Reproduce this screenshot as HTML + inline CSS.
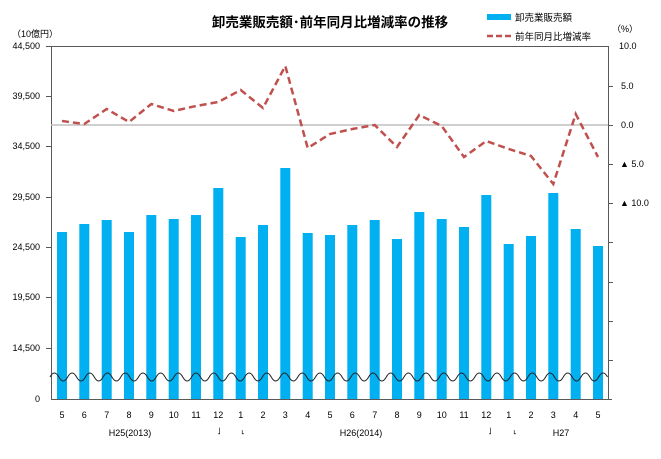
<!DOCTYPE html>
<html><head><meta charset="utf-8"><style>
body{margin:0;background:#fff}
svg text{font-family:"Liberation Sans","Noto Sans CJK JP",sans-serif;fill:#000}
</style></head><body>
<svg width="661" height="454" viewBox="0 0 661 454" xmlns="http://www.w3.org/2000/svg">
<rect width="661" height="454" fill="#fff"/>
<text x="330" y="27" font-size="13.5" font-weight="bold" text-anchor="middle">卸売業販売額･前年同月比増減率の推移</text>
<rect x="487" y="14" width="24" height="6" fill="#00b0f0"/>
<text x="515" y="21" font-size="9.5">卸売業販売額</text>
<line x1="487" y1="36" x2="511" y2="36" stroke="#c0504d" stroke-width="2.5" stroke-dasharray="6,3"/>
<text x="515" y="40" font-size="9.5">前年同月比増減率</text>
<text x="12" y="37" font-size="9">（10億円）</text>
<text x="612" y="32" font-size="9">（%）</text>
<g font-size="9" text-anchor="end">
<text x="40" y="49">44,500</text><text x="40" y="99">39,500</text><text x="40" y="149">34,500</text><text x="40" y="200">29,500</text><text x="40" y="250">24,500</text><text x="40" y="300">19,500</text><text x="40" y="351">14,500</text><text x="40" y="402">0</text>
</g>
<g font-size="9">
<text x="619" y="49">10.0</text><text x="621" y="89">5.0</text><text x="621" y="128">0.0</text><text x="620" y="167">▲ 5.0</text><text x="620" y="206">▲ 10.0</text>
</g>
<g stroke="#595959" stroke-width="1">
<line x1="51" y1="46.5" x2="609" y2="46.5"/>
<line x1="51.5" y1="46" x2="51.5" y2="399"/>
<line x1="608.5" y1="46" x2="608.5" y2="399"/>
<line x1="51" y1="399.5" x2="612" y2="399.5"/>
<path d="M46 46.5h5M46 96.5h5M46 146.5h5M46 197.5h5M46 247.5h5M46 297.5h5M46 348.5h5M609 86.5h4M609 125.5h4M609 164.5h4M609 203.5h4M609 242.5h4M609 282.5h4M609 321.5h4M609 360.5h4"/>
</g>
<line x1="51" y1="125" x2="608" y2="125" stroke="#bfbfbf" stroke-width="1.5"/>
<g fill="#00b0f0">
<rect x="57" y="232" width="10" height="167"/>
<rect x="79.3" y="224" width="10" height="175"/>
<rect x="101.7" y="220" width="10" height="179"/>
<rect x="124" y="232" width="10" height="167"/>
<rect x="146.3" y="215" width="10" height="184"/>
<rect x="168.7" y="219" width="10" height="180"/>
<rect x="191" y="215" width="10" height="184"/>
<rect x="213.3" y="188" width="10" height="211"/>
<rect x="235.7" y="237" width="10" height="162"/>
<rect x="258" y="225" width="10" height="174"/>
<rect x="280.3" y="168" width="10" height="231"/>
<rect x="302.7" y="233" width="10" height="166"/>
<rect x="325" y="235" width="10" height="164"/>
<rect x="347.3" y="225" width="10" height="174"/>
<rect x="369.7" y="220" width="10" height="179"/>
<rect x="392" y="239" width="10" height="160"/>
<rect x="414.3" y="212" width="10" height="187"/>
<rect x="436.7" y="219" width="10" height="180"/>
<rect x="459" y="227" width="10" height="172"/>
<rect x="481.3" y="195" width="10" height="204"/>
<rect x="503.7" y="244" width="10" height="155"/>
<rect x="526" y="236" width="10" height="163"/>
<rect x="548.3" y="193" width="10" height="206"/>
<rect x="570.7" y="229" width="10" height="170"/>
<rect x="593" y="246" width="10" height="153"/>
</g>
<path d="M50 377 q4.42 -8 8.85 0 t8.85 0 t8.85 0 t8.85 0 t8.85 0 t8.85 0 t8.85 0 t8.85 0 t8.85 0 t8.85 0 t8.85 0 t8.85 0 t8.85 0 t8.85 0 t8.85 0 t8.85 0 t8.85 0 t8.85 0 t8.85 0 t8.85 0 t8.85 0 t8.85 0 t8.85 0 t8.85 0 t8.85 0 t8.85 0 t8.85 0 t8.85 0 t8.85 0 t8.85 0 t8.85 0 t8.85 0 t8.85 0 t8.85 0 t8.85 0 t8.85 0 t8.85 0 t8.85 0 t8.85 0 t8.85 0 t8.85 0 t8.85 0 t8.85 0 t8.85 0 t8.85 0 t8.85 0 t8.85 0 t8.85 0 t8.85 0 t8.85 0 t8.85 0 t8.85 0 t8.85 0 t8.85 0 t8.85 0 t8.85 0 t8.85 0 t8.85 0 t8.85 0 t8.85 0 t8.85 0 t8.85 0 t8.85 0" fill="none" stroke="#222" stroke-width="1"/>
<polyline fill="none" stroke="#c0504d" stroke-width="2.5" stroke-dasharray="7,4" points="62,121 84.3,124 106.7,109 129,122 151.3,104 173.7,111 196,106 218.3,102 240.7,90 263,108 285.3,66 307.7,148 330,134 352.3,129 374.7,125 397,147 419.3,115 441.7,126 464,157 486.3,141 508.7,149 531,156 553.3,184 575.7,114 598,157"/>
<g font-size="9" text-anchor="middle">
<text x="62" y="418">5</text><text x="84.3" y="418">6</text><text x="106.7" y="418">7</text><text x="129" y="418">8</text><text x="151.3" y="418">9</text><text x="173.7" y="418">10</text><text x="196" y="418">11</text><text x="218.3" y="418">12</text><text x="240.7" y="418">1</text><text x="263" y="418">2</text><text x="285.3" y="418">3</text><text x="307.7" y="418">4</text><text x="330" y="418">5</text><text x="352.3" y="418">6</text><text x="374.7" y="418">7</text><text x="397" y="418">8</text><text x="419.3" y="418">9</text><text x="441.7" y="418">10</text><text x="464" y="418">11</text><text x="486.3" y="418">12</text><text x="508.7" y="418">1</text><text x="531" y="418">2</text><text x="553.3" y="418">3</text><text x="575.7" y="418">4</text><text x="598" y="418">5</text>
<text x="130" y="436">H25(2013)</text><text x="219" y="434">˩</text><text x="243" y="434">˪</text>
<text x="361" y="436">H26(2014)</text><text x="490" y="434">˩</text><text x="515" y="434">˪</text>
<text x="561" y="436">H27</text>
</g>
</svg>
</body></html>
